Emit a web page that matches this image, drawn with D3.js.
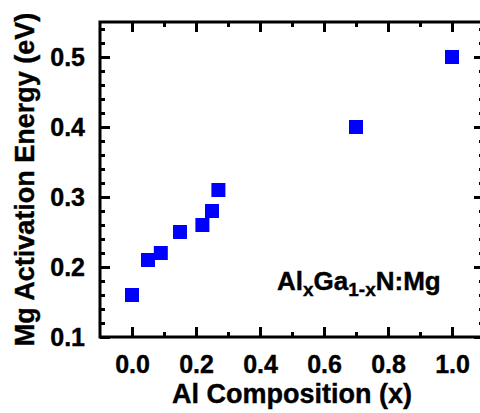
<!DOCTYPE html>
<html>
<head>
<meta charset="utf-8">
<script src="https://cdn.jsdelivr.net/npm/d3@7"></script>
<style>
  html, body { margin: 0; padding: 0; background: #fff; }
  svg { display: block; }
  text { font-family: "Liberation Sans", Arial, sans-serif; font-weight: bold; fill: #000;
         stroke: #000; stroke-width: 0.4px; }
</style>
</head>
<body>
<svg id="chart" width="480" height="413"></svg>
<script>
// Mg acceptor activation energy in AlGaN versus Al mole fraction
const alComposition    = [0.00, 0.05, 0.09, 0.15, 0.22, 0.25, 0.27, 0.70, 1.00];
const activationEnergy = [0.16, 0.21, 0.22, 0.25, 0.26, 0.28, 0.31, 0.40, 0.50];

const xMajorTicks = [0.0, 0.2, 0.4, 0.6, 0.8, 1.0];
const xMinorTicks = [0.1, 0.3, 0.5, 0.7, 0.9];
const yMajorTicks = [0.1, 0.2, 0.3, 0.4, 0.5];
const yMinorTicks = [0.12, 0.14, 0.16, 0.18, 0.22, 0.24, 0.26, 0.28,
                     0.32, 0.34, 0.36, 0.38, 0.42, 0.44, 0.46, 0.48, 0.52, 0.54];

const svg = d3.select("#chart");
const plotL = 100, plotR = 484, plotT = 22, plotB = 337;

const x = d3.scaleLinear().domain([-0.1, 1.1]).range([plotL, plotR]);
const y = d3.scaleLinear().domain([0.1, 0.55]).range([plotB, plotT]);

const fmt = d3.format(".1f");
const major = 10, minor = 5, tickW = 3;

function styleAxis(g) {
  g.select(".domain").remove();
  g.selectAll(".tick line").attr("stroke", "#000").attr("stroke-width", tickW);
  g.selectAll(".tick text").style("font-size", "25px").style("font-weight", "bold")
    .style("font-family", "'Liberation Sans', Arial, sans-serif");
}

// bottom axis: major with labels, minor without
svg.append("g").attr("transform", `translate(0,${plotB})`)
  .call(d3.axisBottom(x).tickValues(xMajorTicks).tickSizeInner(-major).tickSizeOuter(0)
        .tickPadding(18).tickFormat(fmt))
  .call(styleAxis);
svg.append("g").attr("transform", `translate(0,${plotB})`)
  .call(d3.axisBottom(x).tickValues(xMinorTicks).tickSizeInner(-minor).tickSizeOuter(0).tickFormat(""))
  .call(styleAxis);

// top axis mirror ticks
svg.append("g").attr("transform", `translate(0,${plotT})`)
  .call(d3.axisTop(x).tickValues(xMajorTicks).tickSizeInner(-major).tickSizeOuter(0).tickFormat(""))
  .call(styleAxis);
svg.append("g").attr("transform", `translate(0,${plotT})`)
  .call(d3.axisTop(x).tickValues(xMinorTicks).tickSizeInner(-minor).tickSizeOuter(0).tickFormat(""))
  .call(styleAxis);

// left axis
svg.append("g").attr("transform", `translate(${plotL},0)`)
  .call(d3.axisLeft(y).tickValues(yMajorTicks).tickSizeInner(-major).tickSizeOuter(0)
        .tickPadding(15).tickFormat(fmt))
  .call(styleAxis);
svg.append("g").attr("transform", `translate(${plotL},0)`)
  .call(d3.axisLeft(y).tickValues(yMinorTicks).tickSizeInner(-minor).tickSizeOuter(0).tickFormat(""))
  .call(styleAxis);

// right axis mirror ticks
svg.append("g").attr("transform", `translate(${plotR},0)`)
  .call(d3.axisRight(y).tickValues(yMajorTicks).tickSizeInner(-major).tickSizeOuter(0).tickFormat(""))
  .call(styleAxis);
svg.append("g").attr("transform", `translate(${plotR},0)`)
  .call(d3.axisRight(y).tickValues(yMinorTicks).tickSizeInner(-minor).tickSizeOuter(0).tickFormat(""))
  .call(styleAxis);

// plot frame
svg.append("rect")
  .attr("x", plotL).attr("y", plotT)
  .attr("width", plotR - plotL).attr("height", plotB - plotT)
  .attr("fill", "none").attr("stroke", "#000").attr("stroke-width", 3);

// data markers
const sq = 14;
svg.append("g").selectAll("rect")
  .data(alComposition.map((v, i) => [v, activationEnergy[i]]))
  .join("rect")
  .attr("x", d => x(d[0]) - sq / 2)
  .attr("y", d => y(d[1]) - sq / 2)
  .attr("width", sq).attr("height", sq)
  .attr("fill", "#0000ff");

// axis titles
svg.append("text")
  .attr("x", (plotL + plotR) / 2).attr("y", 403)
  .attr("text-anchor", "middle").style("font-size", "27px")
  .text("Al Composition (x)");

svg.append("text")
  .attr("transform", `translate(34,${(plotT + plotB) / 2}) rotate(-90)`)
  .attr("text-anchor", "middle").style("font-size", "27px")
  .text("Mg Activation Energy (eV)");

// material label
const lab = svg.append("text").attr("x", 277).attr("y", 290).style("font-size", "26px");
lab.append("tspan").text("Al");
lab.append("tspan").attr("dy", 6).style("font-size", "19px").text("x");
lab.append("tspan").attr("dy", -6).text("Ga");
lab.append("tspan").attr("dy", 6).style("font-size", "19px").text("1-x");
lab.append("tspan").attr("dy", -6).text("N:Mg");
</script>
</body>
</html>
